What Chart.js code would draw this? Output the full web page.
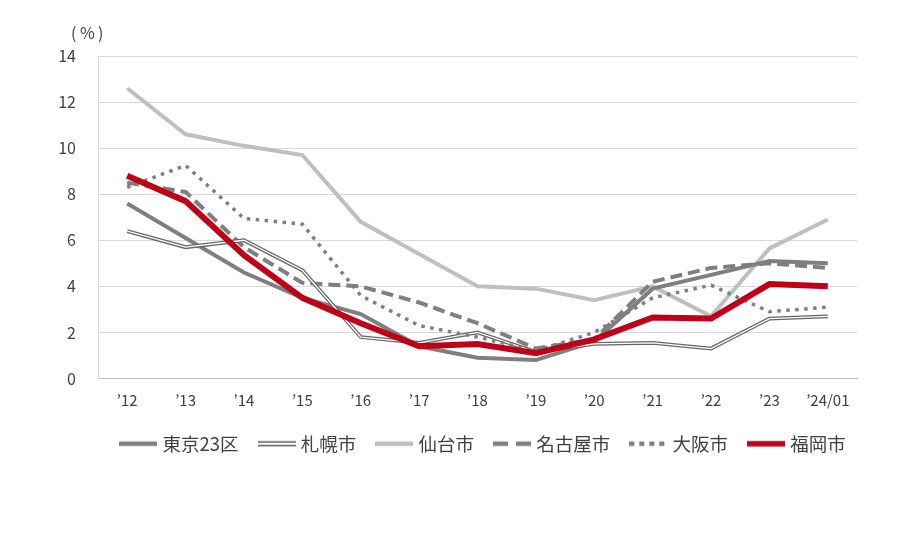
<!DOCTYPE html>
<html>
<head>
<meta charset="utf-8">
<script src="https://cdn.jsdelivr.net/npm/chart.js@4.4.1/dist/chart.umd.min.js"></script>
<style>
body { margin: 0; background: #fff; }
#wrap { width: 905px; height: 543px; }
</style>
</head>
<body>
<div id="wrap"><canvas id="myChart"></canvas></div>
<script>
const years = ['\u201912', '\u201913', '\u201914', '\u201915', '\u201916', '\u201917', '\u201918',
               '\u201919', '\u201920', '\u201921', '\u201922', '\u201923', '\u201924/01'];

const tokyo   = [7.6, 6.1, 4.6, 3.5, 2.8, 1.4, 0.9, 0.8, 1.6, 3.9, 4.5, 5.1, 5.0];
const sapporo = [6.4, 5.7, 6.0, 4.7, 1.8, 1.55, 2.0, 1.15, 1.5, 1.55, 1.3, 2.6, 2.7];
const sendai  = [12.6, 10.6, 10.1, 9.7, 6.8, 5.4, 4.0, 3.9, 3.4, 4.0, 2.7, 5.65, 6.9];
const nagoya  = [8.5, 8.1, 5.7, 4.15, 4.0, 3.3, 2.4, 1.3, 1.7, 4.2, 4.8, 5.0, 4.8];
const osaka   = [8.3, 9.25, 6.95, 6.7, 3.6, 2.3, 1.8, 1.2, 2.0, 3.5, 4.05, 2.9, 3.1];
const fukuoka = [8.8, 7.7, 5.35, 3.5, 2.4, 1.4, 1.5, 1.1, 1.7, 2.65, 2.6, 4.1, 4.0];

const cityNames = ['東京23区', '札幌市', '仙台市', '名古屋市', '大阪市', '福岡市'];

const FONT = "'Noto Sans CJK JP', 'Liberation Sans', sans-serif";
const TEXT = '#404040';

// small canvases used as legend icons
function makeIcon(kind, color) {
    const c = document.createElement('canvas');
    c.width = 38;
    c.height = 10;
    const g = c.getContext('2d');
    g.strokeStyle = color;
    if (kind === 'double') {
        g.lineWidth = 1.4;
        g.beginPath();
        g.moveTo(0, 3.3); g.lineTo(38, 3.3);
        g.moveTo(0, 6.7); g.lineTo(38, 6.7);
        g.stroke();
        return c;
    }
    g.lineWidth = kind === 'thick' ? 5.5 : 4.5;
    if (kind === 'dash') g.setLineDash([15, 8]);
    if (kind === 'dot') g.setLineDash([5, 5]);
    g.beginPath();
    g.moveTo(0, 5); g.lineTo(38, 5);
    g.stroke();
    return c;
}

const icons = [
    makeIcon('solid', '#7f7f7f'),
    makeIcon('double', '#595959'),
    makeIcon('solid', '#bfbfbf'),
    makeIcon('dash', '#7f7f7f'),
    makeIcon('dot', '#7f7f7f'),
    makeIcon('thick', '#c00018')
];

const percentLabel = {
    id: 'percentLabel',
    afterLayout(chart) {
        // legend sits centred under the plot area, not the whole canvas
        chart.legend.left += 56;
        chart.legend.right += 56;
    },
    afterDraw(chart) {
        const ctx = chart.ctx;
        ctx.save();
        ctx.font = '16px ' + FONT;
        ctx.fillStyle = TEXT;
        ctx.textAlign = 'left';
        ctx.textBaseline = 'middle';
        ctx.fillText('(', 71, 33);
        ctx.fillText('%', 80, 33);
        ctx.fillText(')', 98, 33);
        ctx.restore();
    }
};

function line(label, data, color, width, dash, order) {
    return {
        label: label,
        data: data,
        borderColor: color,
        backgroundColor: color,
        borderWidth: width,
        borderDash: dash,
        pointRadius: 0,
        pointHoverRadius: 0,
        tension: 0,
        fill: false,
        order: order
    };
}

const ctx = document.getElementById('myChart').getContext('2d');
new Chart(ctx, {
    type: 'line',
    data: {
        labels: years,
        datasets: [
            line(cityNames[0], tokyo, '#7f7f7f', 4, [], 4),
            line(cityNames[1], sapporo, '#666666', 3.8, [], 3),
            line(cityNames[2], sendai, '#bfbfbf', 4, [], 6),
            line(cityNames[3], nagoya, '#7f7f7f', 4, [12, 6], 5),
            line(cityNames[4], osaka, '#7f7f7f', 3.5, [3.5, 5.5], 1),
            line(cityNames[5], fukuoka, '#c00018', 6, [], 0),
            line('sapporo-inner', sapporo, '#ffffff', 1.3, [], 2)
        ]
    },
    options: {
        responsive: true,
        maintainAspectRatio: false,
        animation: false,
        layout: { padding: { top: 56, right: 48, bottom: 80, left: 0 } },
        scales: {
            x: {
                offset: true,
                grid: { display: false, drawTicks: false },
                border: { display: true, color: '#bfbfbf', width: 1 },
                ticks: { color: TEXT, font: { family: FONT, size: 15 }, padding: 13, maxRotation: 0 },
                afterFit(scale) { scale.height = 33; }
            },
            y: {
                min: 0,
                max: 14,
                ticks: { stepSize: 2, color: TEXT, font: { family: FONT, size: 16 }, padding: 22 },
                grid: { color: '#d9d9d9', drawTicks: false },
                border: { display: true, color: '#d9d9d9' },
                afterFit(scale) { scale.width = 98; }
            }
        },
        plugins: {
            tooltip: { enabled: false },
            legend: {
                position: 'bottom',
                labels: {
                    color: TEXT,
                    font: { family: FONT, size: 18.5 },
                    usePointStyle: true,
                    pointStyleWidth: 30,
                    padding: 23,
                    filter: item => item.datasetIndex < 6,
                    generateLabels(chart) {
                        return chart.data.datasets.map((ds, i) => ({
                            text: ds.label,
                            pointStyle: icons[i] || 'line',
                            fillStyle: ds.borderColor,
                            strokeStyle: ds.borderColor,
                            lineWidth: 0,
                            fontColor: TEXT,
                            hidden: false,
                            datasetIndex: i
                        }));
                    }
                }
            }
        }
    },
    plugins: [percentLabel]
});
</script>
</body>
</html>
